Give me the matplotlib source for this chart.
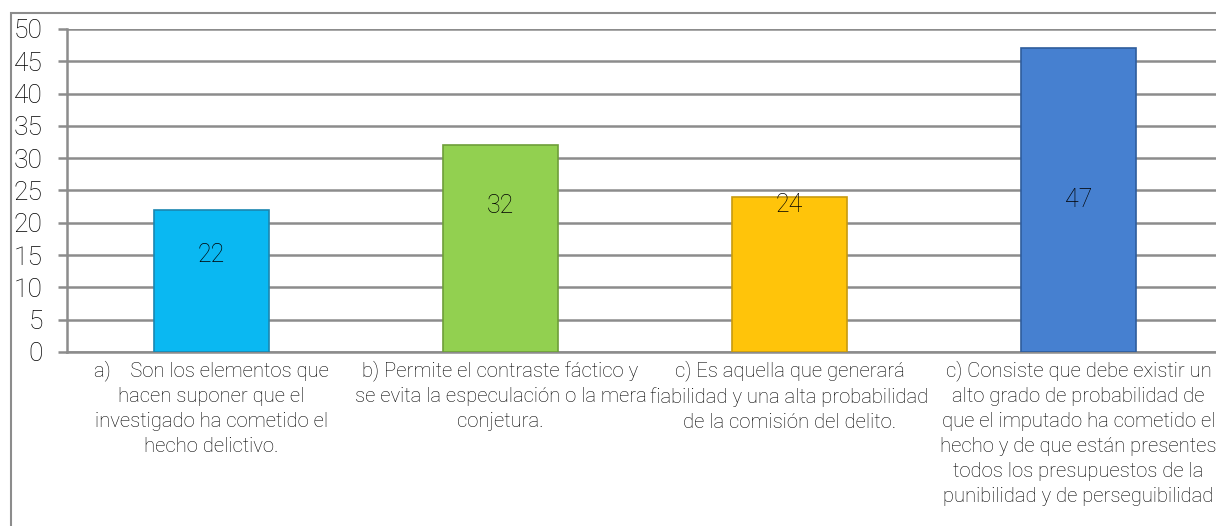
import matplotlib.pyplot as plt
from matplotlib.patches import Rectangle

# Datos del gráfico
categorias = [
    "a)    Son los elementos que\nhacen suponer que el\ninvestigado ha cometido el\nhecho delictivo.",
    "b) Permite el contraste fáctico y\nse evita la especulación o la mera\nconjetura.",
    "c) Es aquella que generará\nfiabilidad y una alta probabilidad\nde la comisión del delito.",
    "c) Consiste que debe existir un\nalto grado de probabilidad de\nque el imputado ha cometido el\nhecho y de que están presentes\ntodos los presupuestos de la\npunibilidad y de perseguibilidad",
]
valores = [22, 32, 24, 47]
altura_etiqueta = [15, 22.6, 22.7, 23.5]
colores = ['#0AB8F2', '#92D050', '#FFC40A', '#4680D0']
bordes = ['#1B86B0', '#6E9E3A', '#C79A10', '#2F5D9C']

plt.rcParams['font.family'] = ['Roboto', 'DejaVu Sans']

fig = plt.figure(figsize=(12.16, 5.26), dpi=100)
ax = fig.add_axes([0.0551, 0.3308, 0.9507, 0.6141])

x = range(len(valores))
ax.bar(x, valores, width=0.4, color=colores, edgecolor=bordes, linewidth=1.2, zorder=3)
for xi, v, ly in zip(x, valores, altura_etiqueta):
    ax.text(xi, ly, str(v), ha='center', va='center', fontsize=18, fontweight='light', color='black', zorder=4)

ax.set_xlim(-0.5, 3.5)
ax.set_ylim(0, 50)
ax.set_yticks(range(0, 51, 5))
ax.yaxis.grid(True, color='#8C8C8C', linewidth=1.8, zorder=0)
ax.set_axisbelow(True)
ax.tick_params(axis='y', length=6.5, width=1.8, color='#8C8C8C', labelsize=19, pad=11, labelcolor='black')
for lab in ax.get_yticklabels():
    lab.set_fontweight('light')
ax.set_xticks(list(x))
ax.set_xticklabels(categorias, fontsize=14.6, fontweight='light', linespacing=1.4, color='black')
ax.tick_params(axis='x', length=0, pad=6)

for s in ['top', 'right']:
    ax.spines[s].set_visible(False)
ax.spines['left'].set_color('#8C8C8C')
ax.spines['left'].set_linewidth(1.8)
ax.spines['bottom'].set_color('#8C8C8C')
ax.spines['bottom'].set_linewidth(1.8)

# Marco exterior
fig.patches.append(Rectangle((11 / 1216, -0.1), 1.2, 1 - 13 / 526 + 0.1, transform=fig.transFigure,
                             fill=False, edgecolor='#8C8C8C', linewidth=1.5))

fig.savefig('out.png', dpi=100)
plt.close()
